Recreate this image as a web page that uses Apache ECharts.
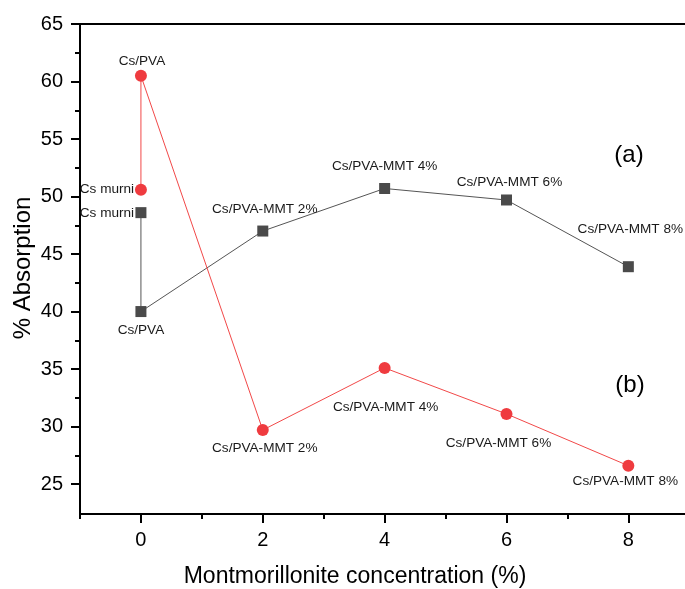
<!DOCTYPE html>
<html>
<head>
<meta charset="utf-8">
<script src="https://cdn.jsdelivr.net/npm/echarts@6/dist/echarts.min.js"></script>
<style>
html,body{margin:0;padding:0;background:#fff;}
#chart{width:685px;height:589px;}
</style>
</head>
<body>
<div id="chart"></div>
<script>
// ---- data ----
const xValues = [0, 0, 2, 4, 6, 8];
const sampleNamesA = ['Cs murni', 'Cs/PVA', 'Cs/PVA-MMT 2%', 'Cs/PVA-MMT 4%', 'Cs/PVA-MMT 6%', 'Cs/PVA-MMT 8%'];
const sampleNamesB = ['Cs murni', 'Cs/PVA', 'Cs/PVA-MMT 2%', 'Cs/PVA-MMT 4%', 'Cs/PVA-MMT 6%', 'Cs/PVA-MMT 8%'];
const seriesA = [48.6, 40.0, 47.0, 50.7, 49.7, 43.9];
const seriesB = [50.6, 60.5, 29.7, 35.1, 31.1, 26.6];
const xTickValues = [0, 2, 4, 6, 8];
const xMinorValues = [-1, 1, 3, 5, 7];
const yTickValues = [25, 30, 35, 40, 45, 50, 55, 60, 65];
const yMinorValues = [27.5, 32.5, 37.5, 42.5, 47.5, 52.5, 57.5, 62.5];

// ---- label placement (style) ----
const labelOffsetA = [[-34, 1], [0, 19], [2, -22], [0, -22], [3, -18], [2, -37]];
const labelOffsetB = [[-34, 0], [1, -15], [2, 18], [1, 39], [-8, 29], [-3, 16]];

const FONT = 'Liberation Sans, Arial, sans-serif';

function buildData(ys, names, offsets) {
  return ys.map((y, i) => ({
    value: [xValues[i], y],
    name: names[i],
    label: { offset: offsets[i] }
  }));
}

const labelBase = {
  show: true,
  position: 'inside',
  align: 'center',
  verticalAlign: 'middle',
  formatter: p => p.name,
  color: '#1a1a1a',
  fontSize: 13.6,
  fontFamily: FONT
};

const chart = echarts.init(document.getElementById('chart'), null, { renderer: 'canvas' });

const XMIN = -1, XMAX = 8.93, YMIN = 22.4, YMAX = 65;

const option = {
  backgroundColor: '#fff',
  animation: false,
  grid: { left: 80, right: 0, top: 24, bottom: 75, containLabel: false },
  xAxis: [
    {
      type: 'value', min: XMIN, max: XMAX, position: 'bottom',
      axisLine: { show: true, onZero: false, lineStyle: { color: '#000', width: 2 } },
      axisTick: { show: true, inside: false, length: 9, lineStyle: { color: '#000', width: 2 }, customValues: xTickValues },
      axisLabel: { show: true, customValues: xTickValues, fontSize: 20, color: '#000', fontFamily: FONT, margin: 16 },
      splitLine: { show: false }
    },
    {
      type: 'value', min: XMIN, max: XMAX, position: 'bottom',
      axisLine: { show: false, onZero: false },
      axisTick: { show: true, inside: false, length: 5, lineStyle: { color: '#000', width: 2 }, customValues: xMinorValues },
      axisLabel: { show: false },
      splitLine: { show: false }
    },
    {
      type: 'value', min: XMIN, max: XMAX, position: 'top',
      axisLine: { show: true, onZero: false, lineStyle: { color: '#000', width: 2 } },
      axisTick: { show: false }, axisLabel: { show: false }, splitLine: { show: false }
    }
  ],
  yAxis: [
    {
      type: 'value', min: YMIN, max: YMAX, position: 'left',
      axisLine: { show: true, onZero: false, lineStyle: { color: '#000', width: 2 } },
      axisTick: { show: true, inside: false, length: 9, lineStyle: { color: '#000', width: 2 }, customValues: yTickValues },
      axisLabel: { show: true, customValues: yTickValues, fontSize: 20, color: '#000', fontFamily: FONT, margin: 17 },
      splitLine: { show: false }
    },
    {
      type: 'value', min: YMIN, max: YMAX, position: 'left',
      axisLine: { show: false, onZero: false },
      axisTick: { show: true, inside: false, length: 5, lineStyle: { color: '#000', width: 2 }, customValues: yMinorValues },
      axisLabel: { show: false },
      splitLine: { show: false }
    }
  ],
  series: [
    {
      name: '(a)', type: 'line', xAxisIndex: 0, yAxisIndex: 0,
      symbol: 'rect', symbolSize: 11,
      itemStyle: { color: '#4a4a4a' },
      lineStyle: { color: '#555', width: 1 },
      label: labelBase,
      data: buildData(seriesA, sampleNamesA, labelOffsetA),
      z: 3
    },
    {
      name: '(b)', type: 'line', xAxisIndex: 0, yAxisIndex: 0,
      symbol: 'circle', symbolSize: 12,
      itemStyle: { color: '#ef3b3f' },
      lineStyle: { color: '#f24848', width: 1 },
      label: labelBase,
      data: buildData(seriesB, sampleNamesB, labelOffsetB),
      z: 4
    }
  ],
  graphic: [
    { type: 'text', x: 629, y: 155, style: { text: '(a)', fontSize: 24, fontFamily: FONT, fill: '#000', align: 'center', verticalAlign: 'middle' } },
    { type: 'text', x: 630, y: 385, style: { text: '(b)', fontSize: 24, fontFamily: FONT, fill: '#000', align: 'center', verticalAlign: 'middle' } },
    { type: 'text', x: 355, y: 577, style: { text: 'Montmorillonite concentration (%)', fontSize: 23, fontFamily: FONT, fill: '#000', align: 'center', verticalAlign: 'middle' } },
    { type: 'text', x: 23, y: 268, rotation: Math.PI / 2, style: { text: '% Absorption', fontSize: 24, fontFamily: FONT, fill: '#000', align: 'center', verticalAlign: 'middle' } }
  ]
};

chart.setOption(option);
</script>
</body>
</html>
